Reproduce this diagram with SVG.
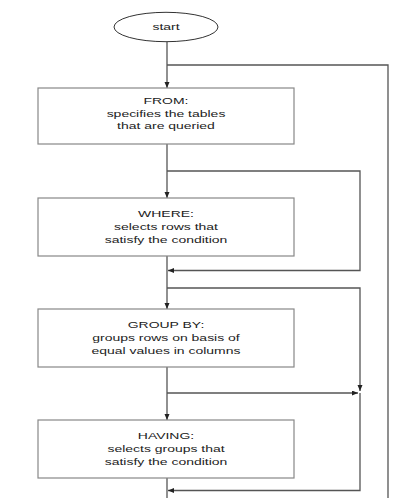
<svg xmlns="http://www.w3.org/2000/svg" width="404" height="498" viewBox="0 0 404 498">
<style>
.box{fill:#fff;stroke:#888;stroke-width:1.2}
.ell{fill:#fff;stroke:#333;stroke-width:1}
.ln{fill:none;stroke:#555;stroke-width:1.3}
.t{font-family:"Liberation Sans",Arial,sans-serif;font-size:9.5px;fill:#222;text-anchor:middle}
</style>
<defs>
<marker id="ah" markerUnits="userSpaceOnUse" markerWidth="7" markerHeight="6" refX="6" refY="2.5" orient="auto">
<path d="M0,0 L6,2.5 L0,5 z" fill="#222"/>
</marker>
</defs>
<g id="connectors">
<path class="ln" d="M167,42 V88" marker-end="url(#ah)"/>
<path class="ln" d="M167,65 H388 V498"/>
<path class="ln" d="M167,144 V198" marker-end="url(#ah)"/>
<path class="ln" d="M167,171 H360 V270.5 H168" marker-end="url(#ah)"/>
<path class="ln" d="M167,256 V309" marker-end="url(#ah)"/>
<path class="ln" d="M167,288 H360 V391" marker-end="url(#ah)"/>
<path class="ln" d="M167,367 V420" marker-end="url(#ah)"/>
<path class="ln" d="M167,393 H358" marker-end="url(#ah)"/>
<path class="ln" d="M360,393 V490.5 H168" marker-end="url(#ah)"/>
<path class="ln" d="M167,478 V498"/>
</g>
<g id="start">
<ellipse class="ell" cx="166" cy="27" rx="52" ry="14.7"/>
<g transform="translate(166,0) scale(1.47,1)"><text class="t" x="0" y="30.5">start</text></g>
</g>
<g id="from">
<rect class="box" x="38" y="88" width="256" height="56"/>
<g transform="translate(166,0) scale(1.47,1)">
<text class="t" x="0" y="104.5">FROM:</text>
<text class="t" x="0" y="117">specifies the tables</text>
<text class="t" x="0" y="129.5">that are queried</text>
</g>
</g>
<g id="where">
<rect class="box" x="38" y="198" width="256" height="58"/>
<g transform="translate(166,0) scale(1.47,1)">
<text class="t" x="0" y="217">WHERE:</text>
<text class="t" x="0" y="230">selects rows that</text>
<text class="t" x="0" y="243">satisfy the condition</text>
</g>
</g>
<g id="groupby">
<rect class="box" x="38" y="309" width="256" height="58"/>
<g transform="translate(166,0) scale(1.47,1)">
<text class="t" x="0" y="328.5">GROUP BY:</text>
<text class="t" x="0" y="341.5">groups rows on basis of</text>
<text class="t" x="0" y="354.5">equal values in columns</text>
</g>
</g>
<g id="having">
<rect class="box" x="38" y="420" width="256" height="58"/>
<g transform="translate(166,0) scale(1.47,1)">
<text class="t" x="0" y="439.5">HAVING:</text>
<text class="t" x="0" y="452.5">selects groups that</text>
<text class="t" x="0" y="465.5">satisfy the condition</text>
</g>
</g>
</svg>
